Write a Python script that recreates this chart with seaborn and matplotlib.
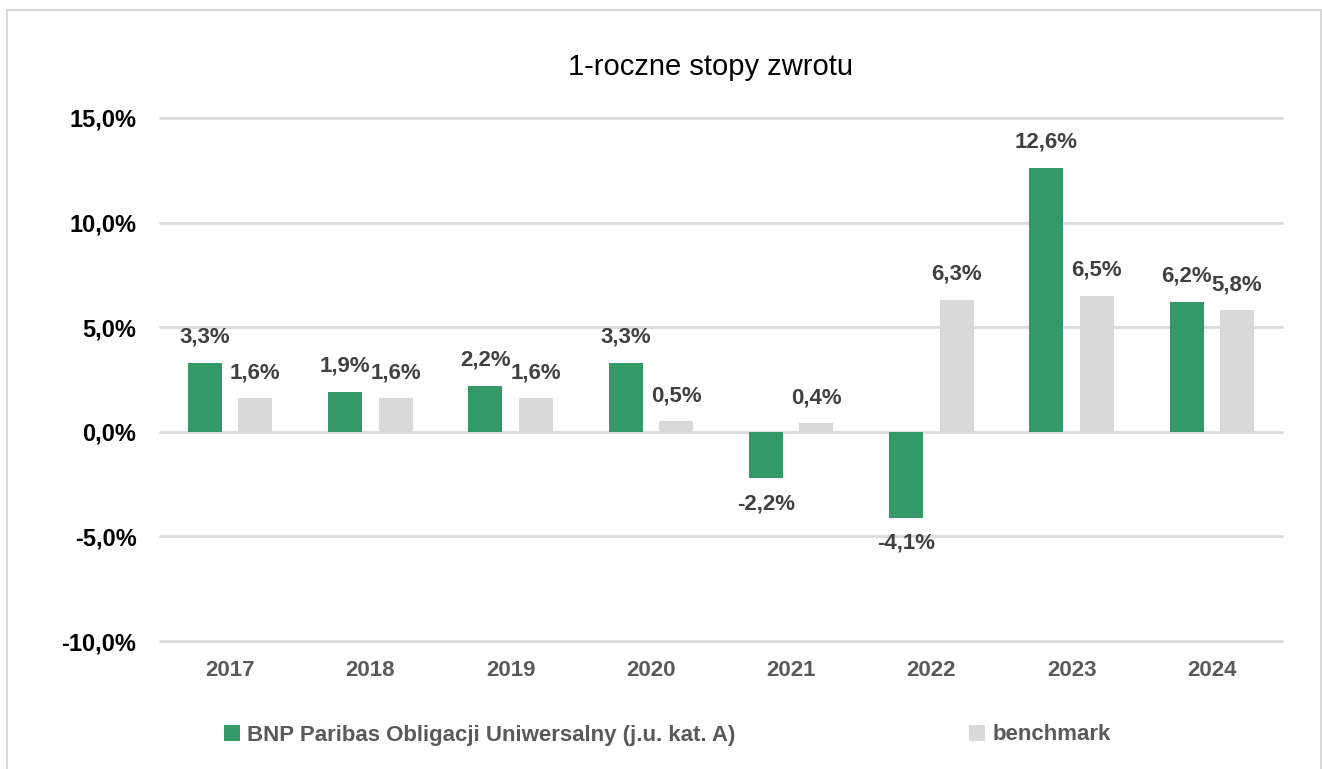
import matplotlib
matplotlib.use('Agg')
import matplotlib.pyplot as plt
import matplotlib.ticker as ticker
from matplotlib.patches import Rectangle
import pandas as pd
import seaborn as sns

# data
years = ['2017', '2018', '2019', '2020', '2021', '2022', '2023', '2024']
fund = [3.3, 1.9, 2.2, 3.3, -2.2, -4.1, 12.6, 6.2]
benchmark = [1.6, 1.6, 1.6, 0.5, 0.4, 6.3, 6.5, 5.8]
fund_name = 'BNP Paribas Obligacji Uniwersalny (j.u. kat. A)'
bench_name = 'benchmark'
title = '1-roczne stopy zwrotu'

green = '#339966'
grey = '#d9d9d9'

sns.set_style('white')
plt.rcParams['font.family'] = ['Liberation Sans', 'DejaVu Sans']

df = pd.DataFrame({
    'year': years * 2,
    'value': fund + benchmark,
    'series': [fund_name] * len(years) + [bench_name] * len(years),
})

fig = plt.figure(figsize=(13.22, 7.69), dpi=100)
ax = fig.add_axes([160 / 1322, 1 - 641 / 769, 1122 / 1322, 523 / 769])

sns.barplot(data=df, x='year', y='value', hue='series', order=years,
            hue_order=[fund_name, bench_name], palette=[green, grey],
            width=0.72, gap=0.33, saturation=1, linewidth=0, ax=ax, legend=True)

ax.set_ylim(-10, 15)
ax.set_xlim(-0.5, len(years) - 0.5)
ax.yaxis.set_major_locator(ticker.MultipleLocator(5))
ax.yaxis.set_major_formatter(ticker.FuncFormatter(
    lambda v, _: f'{v:.1f}%'.replace('.', ',')))
ax.grid(axis='y', color='#d9d9d9', linewidth=2)
ax.set_axisbelow(True)
for gl in ax.get_ygridlines():
    gl.set_clip_on(False)
for s in ax.spines.values():
    s.set_visible(False)
ax.set_xlabel('')
ax.set_ylabel('')
ax.tick_params(axis='y', length=0, pad=17, labelsize=17, labelcolor='black')
ax.tick_params(axis='x', length=0, pad=14, labelsize=16, labelcolor='#595959')
for lbl in ax.get_yticklabels() + ax.get_xticklabels():
    lbl.set_fontweight('bold')

for cont, vals in zip(ax.containers, [fund, benchmark]):
    ax.bar_label(cont, labels=[f'{v:.1f}%'.replace('.', ',') for v in vals],
                 padding=11, fontsize=16, fontweight='bold', color='#404040')

sns.move_legend(ax, 'center left', bbox_to_anchor=(224 / 1322, 1 - 735 / 769),
                bbox_transform=fig.transFigure, ncol=2, frameon=False, title=None,
                handlelength=0.7, handleheight=0.7, handletextpad=0.35,
                columnspacing=10.5, borderpad=0, borderaxespad=0,
                prop={'size': 16, 'weight': 'bold'})
for t in ax.get_legend().get_texts():
    t.set_color('#595959')

fig.text(711 / 1322, 1 - 67 / 769, title, ha='center', va='center',
         fontsize=21, color='black')

fig.patches.append(Rectangle((7 / 1322, -0.05), 1314 / 1322, 1.05 - 10 / 769,
                             transform=fig.transFigure, fill=False,
                             edgecolor='#d9d9d9', linewidth=1.5, zorder=-1))

fig.savefig('out.png', dpi=100, facecolor='white')
